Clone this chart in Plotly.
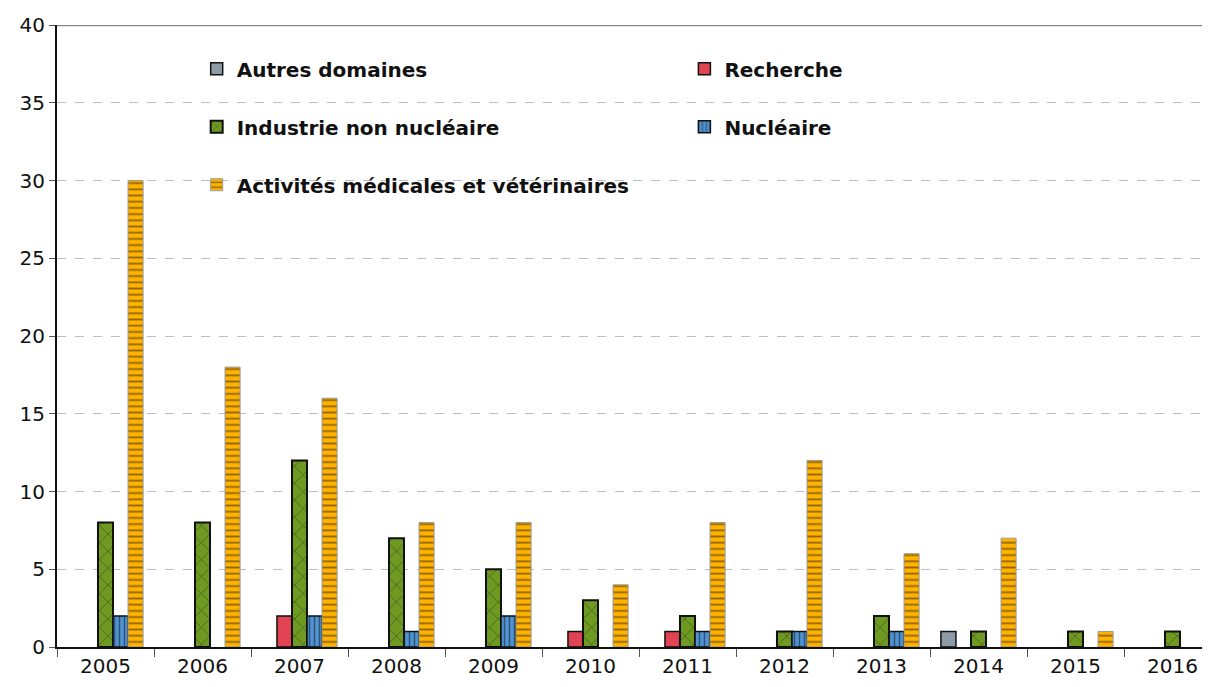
import plotly.graph_objects as go

years = ["2005", "2006", "2007", "2008", "2009", "2010", "2011", "2012", "2013", "2014", "2015", "2016"]
autres = [None, None, None, None, None, None, None, None, None, 1, None, None]
recherche = [None, None, 2, None, None, 1, 1, None, None, None, None, None]
industrie = [8, 8, 12, 7, 5, 3, 2, 1, 2, 1, 1, 1]
nucleaire = [2, None, 2, 1, 2, None, 1, 1, 1, None, None, None]
activites = [30, 18, 16, 8, 8, 4, 8, 12, 6, 7, 1, None]
y_ticks = [0, 5, 10, 15, 20, 25, 30, 35, 40]

FONT = "DejaVu Sans"
fig = go.Figure()

fig.add_trace(go.Bar(
    x=years, y=autres, name="Autres domaines", legend="legend", legendgroup="a",
    marker=dict(color="#8c9ba6", line=dict(color="#111111", width=1.5))))
fig.add_trace(go.Bar(
    x=years, y=recherche, name="Recherche", legend="legend2", legendgroup="b",
    marker=dict(color="#e04452", line=dict(color="#111111", width=1.5))))
fig.add_trace(go.Bar(
    x=years, y=industrie, name="Industrie non nucléaire", legend="legend", legendgroup="c",
    marker=dict(color="#6f9a22", line=dict(color="#111111", width=2),
                pattern=dict(shape="x", fgcolor="#1a1a1a", size=12, solidity=0.12))))
fig.add_trace(go.Bar(
    x=years, y=nucleaire, name="Nucléaire", legend="legend2", legendgroup="d",
    marker=dict(color="#4f93d2", line=dict(color="#111111", width=1.5),
                pattern=dict(shape="|", fgcolor="#111111", size=5, solidity=0.3))))
fig.add_trace(go.Bar(
    x=years, y=activites, name="Activités médicales et vétérinaires", legend="legend", legendgroup="e",
    marker=dict(color="#ffb300", line=dict(color="#9a9a9a", width=1),
                pattern=dict(shape="-", fgcolor="#2a1e00", size=6.2, solidity=0.3))))

legend_common = dict(
    font=dict(family=FONT, size=20, color="#111111", weight="bold"),
    bgcolor="rgba(255,255,255,0)", traceorder="grouped", tracegroupgap=29,
    yanchor="top", xanchor="left", orientation="v", itemclick=False,
)

fig.update_layout(
    width=1213, height=679,
    margin=dict(l=49, r=0, t=17, b=40),
    paper_bgcolor="white", plot_bgcolor="white",
    barmode="group", bargap=0.225, bargroupgap=0,
    font=dict(family=FONT, size=20, color="#111111"),
    legend=dict(x=0.120, y=0.961, **legend_common),
    legend2=dict(x=0.539, y=0.961, **legend_common),
    xaxis=dict(
        type="category", showgrid=False, showline=True, linecolor="#111111", linewidth=2,
        ticks="outside", tickson="boundaries", ticklen=8, tickcolor="#555555", tickwidth=1,
        tickfont=dict(family=FONT, size=20, color="#111111"),
    ),
    yaxis=dict(
        range=[0, 40], tickvals=y_ticks, showgrid=True, gridcolor="#b7c0c8", griddash="dash",
        gridwidth=1, showline=True, linecolor="#111111", linewidth=2,
        ticks="outside", ticklen=6, tickcolor="#555555", zeroline=False,
        tickfont=dict(family=FONT, size=20, color="#111111"),
    ),
    shapes=[
        dict(type="rect", xref="paper", yref="paper", x0=0.104, x1=0.939, y0=0.70, y1=0.985,
             fillcolor="white", line=dict(width=0), layer="between"),
        dict(type="line", xref="paper", yref="y", x0=0, x1=1, y0=40, y1=40,
             line=dict(color="#8a8a8a", width=2.5), layer="above"),
    ],
)

fig.write_html("out.html")
